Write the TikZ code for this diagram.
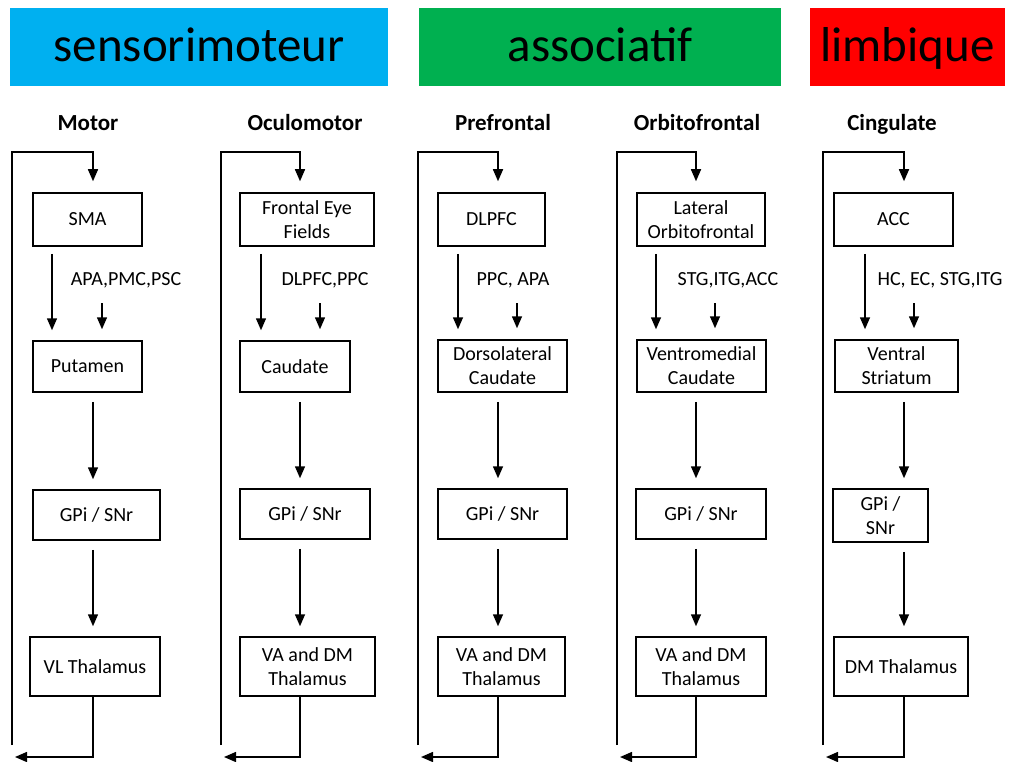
\documentclass[tikz,border=0pt]{standalone}
\usepackage{fontspec}
\setmainfont{Carlito}
\usepackage{xcolor}
\usepackage{tikz}
\usetikzlibrary{
  positioning,
  calc,
  arrows.meta
}
\definecolor{sensori}{RGB}{0,176,240}
\definecolor{assoc}{RGB}{0,176,80}
\definecolor{limbi}{RGB}{255,0,0}
\tikzset{
  bandeau/.style={inner sep=0pt, text height=40pt, text depth=10pt,
    font=\fontsize{49}{52}\selectfont},
  titre/.style={inner sep=0pt, anchor=base, font=\fontsize{23}{26}\selectfont\bfseries},
  box/.style={draw, line width=1.5pt, inner sep=0pt, align=center,
    font=\fontsize{20}{24}\selectfont},
  etiq/.style={inner sep=0pt, font=\fontsize{20}{24}\selectfont},
  fleche/.style={line width=1.5pt, -{Triangle[length=12pt,width=10pt]}},
  lien/.style={fleche, shorten <=9pt, shorten >=10pt}
}

\begin{document}
\begin{tikzpicture}[x=1pt,y=-1pt]
  \useasboundingbox (0,0) rectangle (1016,762);

  % bandeaux
  \node[bandeau, fill=sensori, minimum width=378pt, minimum height=78pt] (sm) at (199,47) {sensorimoteur};
  \node[bandeau, fill=assoc, minimum width=362pt, minimum height=78pt] (as) at (600,47) {associatif};
  \node[bandeau, fill=limbi, minimum width=195pt, minimum height=78pt] (li) at (907.5,47) {limbique};

  % Motor
  \node[titre] (motor) at (88,131) {Motor};
  \coordinate (mot-x) at (93,0);
  \coordinate (mot-g) at (52,0);
  \coordinate (mot-d) at (102,303);
  \coordinate (mot-haut) at (12,152);
  \coordinate (mot-bas) at (12,745);
  \coordinate (mot-ret) at (15,757);
  \node[box, minimum width=109pt, minimum height=53pt] (sma) at (87.5,219.5) {SMA};
  \node[box, minimum width=109pt, minimum height=51pt] (putamen) at (87.5,366.5) {Putamen};
  \node[box, minimum width=127pt, minimum height=50pt] (mot-gpi) at (96.5,515) {GPi / SNr};
  \node[box, minimum width=130pt, minimum height=59pt] (vl) at (95,666.5) {VL Thalamus};
  \node[etiq] (mot-lab) at (126,280) {APA,PMC,PSC};
  \draw[fleche, shorten >=11pt] (mot-bas) -- (mot-haut) -| (sma.north -| mot-x);
  \draw[lien, shorten <=7pt] (sma.south -| mot-g) -- (putamen.north -| mot-g);
  \draw[fleche, shorten >=11pt] (mot-d) -- (putamen.north -| mot-d);
  \draw[lien] (putamen.south -| mot-x) -- (mot-gpi.north -| mot-x);
  \draw[lien] (mot-gpi.south -| mot-x) -- (vl.north -| mot-x);
  \draw[fleche] (vl.south -| mot-x) |- (mot-ret);

  % Oculomotor
  \node[titre] (oculo) at (305,131) {Oculomotor};
  \coordinate (ocu-x) at (300,0);
  \coordinate (ocu-g) at (261,0);
  \coordinate (ocu-d) at (320,303);
  \coordinate (ocu-haut) at (221,152);
  \coordinate (ocu-bas) at (221,745);
  \coordinate (ocu-ret) at (224,757);
  \node[box, minimum width=134pt, minimum height=53pt] (fef) at (307,219.5) {Frontal Eye\\Fields};
  \node[box, minimum width=110pt, minimum height=51pt] (caudate) at (295,366.5) {Caudate};
  \node[box, minimum width=130pt, minimum height=50pt] (ocu-gpi) at (305,514) {GPi / SNr};
  \node[box, minimum width=135pt, minimum height=59pt] (ocu-thal) at (307.5,666.5) {VA and DM\\Thalamus};
  \node[etiq] (ocu-lab) at (325,280) {DLPFC,PPC};
  \draw[fleche, shorten >=11pt] (ocu-bas) -- (ocu-haut) -| (fef.north -| ocu-x);
  \draw[lien, shorten <=7pt] (fef.south -| ocu-g) -- (caudate.north -| ocu-g);
  \draw[fleche, shorten >=11pt] (ocu-d) -- (caudate.north -| ocu-d);
  \draw[lien] (caudate.south -| ocu-x) -- (ocu-gpi.north -| ocu-x);
  \draw[lien] (ocu-gpi.south -| ocu-x) -- (ocu-thal.north -| ocu-x);
  \draw[fleche] (ocu-thal.south -| ocu-x) |- (ocu-ret);

  % Prefrontal
  \node[titre] (prefr) at (503,131) {Prefrontal};
  \coordinate (pre-x) at (498,0);
  \coordinate (pre-g) at (458,0);
  \coordinate (pre-d) at (517,303);
  \coordinate (pre-haut) at (418,152);
  \coordinate (pre-bas) at (418,745);
  \coordinate (pre-ret) at (421,757);
  \node[box, minimum width=107pt, minimum height=53pt] (dlpfc) at (491.5,219.5) {DLPFC};
  \node[box, minimum width=129pt, minimum height=52pt] (dlcaud) at (502.5,366) {Dorsolateral\\Caudate};
  \node[box, minimum width=129pt, minimum height=50pt] (pre-gpi) at (502.5,514) {GPi / SNr};
  \node[box, minimum width=127pt, minimum height=59pt] (pre-thal) at (501.5,666.5) {VA and DM\\Thalamus};
  \node[etiq] (pre-lab) at (513,280) {PPC, APA};
  \draw[fleche, shorten >=11pt] (pre-bas) -- (pre-haut) -| (dlpfc.north -| pre-x);
  \draw[lien, shorten <=7pt] (dlpfc.south -| pre-g) -- (dlcaud.north -| pre-g);
  \draw[fleche, shorten >=11pt] (pre-d) -- (dlcaud.north -| pre-d);
  \draw[lien] (dlcaud.south -| pre-x) -- (pre-gpi.north -| pre-x);
  \draw[lien] (pre-gpi.south -| pre-x) -- (pre-thal.north -| pre-x);
  \draw[fleche] (pre-thal.south -| pre-x) |- (pre-ret);

  % Orbitofrontal
  \node[titre] (orbito) at (697,131) {Orbitofrontal};
  \coordinate (orb-x) at (696,0);
  \coordinate (orb-g) at (656,0);
  \coordinate (orb-d) at (715,303);
  \coordinate (orb-haut) at (617,152);
  \coordinate (orb-bas) at (617,745);
  \coordinate (orb-ret) at (620,757);
  \node[box, minimum width=128pt, minimum height=53pt] (latof) at (701,219.5) {Lateral\\Orbitofrontal};
  \node[box, minimum width=129pt, minimum height=52pt] (vmcaud) at (701.5,366) {Ventromedial\\Caudate};
  \node[box, minimum width=130pt, minimum height=50pt] (orb-gpi) at (701,514) {GPi / SNr};
  \node[box, minimum width=130pt, minimum height=59pt] (orb-thal) at (701,666.5) {VA and DM\\Thalamus};
  \node[etiq] (orb-lab) at (728,280) {STG,ITG,ACC};
  \draw[fleche, shorten >=11pt] (orb-bas) -- (orb-haut) -| (latof.north -| orb-x);
  \draw[lien, shorten <=7pt] (latof.south -| orb-g) -- (vmcaud.north -| orb-g);
  \draw[fleche, shorten >=11pt] (orb-d) -- (vmcaud.north -| orb-d);
  \draw[lien] (vmcaud.south -| orb-x) -- (orb-gpi.north -| orb-x);
  \draw[lien] (orb-gpi.south -| orb-x) -- (orb-thal.north -| orb-x);
  \draw[fleche] (orb-thal.south -| orb-x) |- (orb-ret);

  % Cingulate
  \node[titre] (cingul) at (892,131) {Cingulate};
  \coordinate (cin-x) at (904,0);
  \coordinate (cin-g) at (865,0);
  \coordinate (cin-d) at (914,303);
  \coordinate (cin-haut) at (823,152);
  \coordinate (cin-bas) at (823,745);
  \coordinate (cin-ret) at (826,757);
  \node[box, minimum width=119pt, minimum height=53pt] (acc) at (893.5,219.5) {ACC};
  \node[box, minimum width=123pt, minimum height=52pt] (vstr) at (896.5,366) {Ventral\\Striatum};
  \node[box, minimum width=95pt, minimum height=53pt] (cin-gpi) at (880.5,515.5) {GPi /\\SNr};
  \node[box, minimum width=134pt, minimum height=59pt] (dmthal) at (901,666.5) {DM Thalamus};
  \node[etiq] (cin-lab) at (940,280) {HC, EC, STG,ITG};
  \draw[fleche, shorten >=11pt] (cin-bas) -- (cin-haut) -| (acc.north -| cin-x);
  \draw[lien, shorten <=7pt] (acc.south -| cin-g) -- (vstr.north -| cin-g);
  \draw[fleche, shorten >=11pt] (cin-d) -- (vstr.north -| cin-d);
  \draw[lien] (vstr.south -| cin-x) -- (cin-gpi.north -| cin-x);
  \draw[lien] (cin-gpi.south -| cin-x) -- (dmthal.north -| cin-x);
  \draw[fleche] (dmthal.south -| cin-x) |- (cin-ret);
\end{tikzpicture}
\end{document}
